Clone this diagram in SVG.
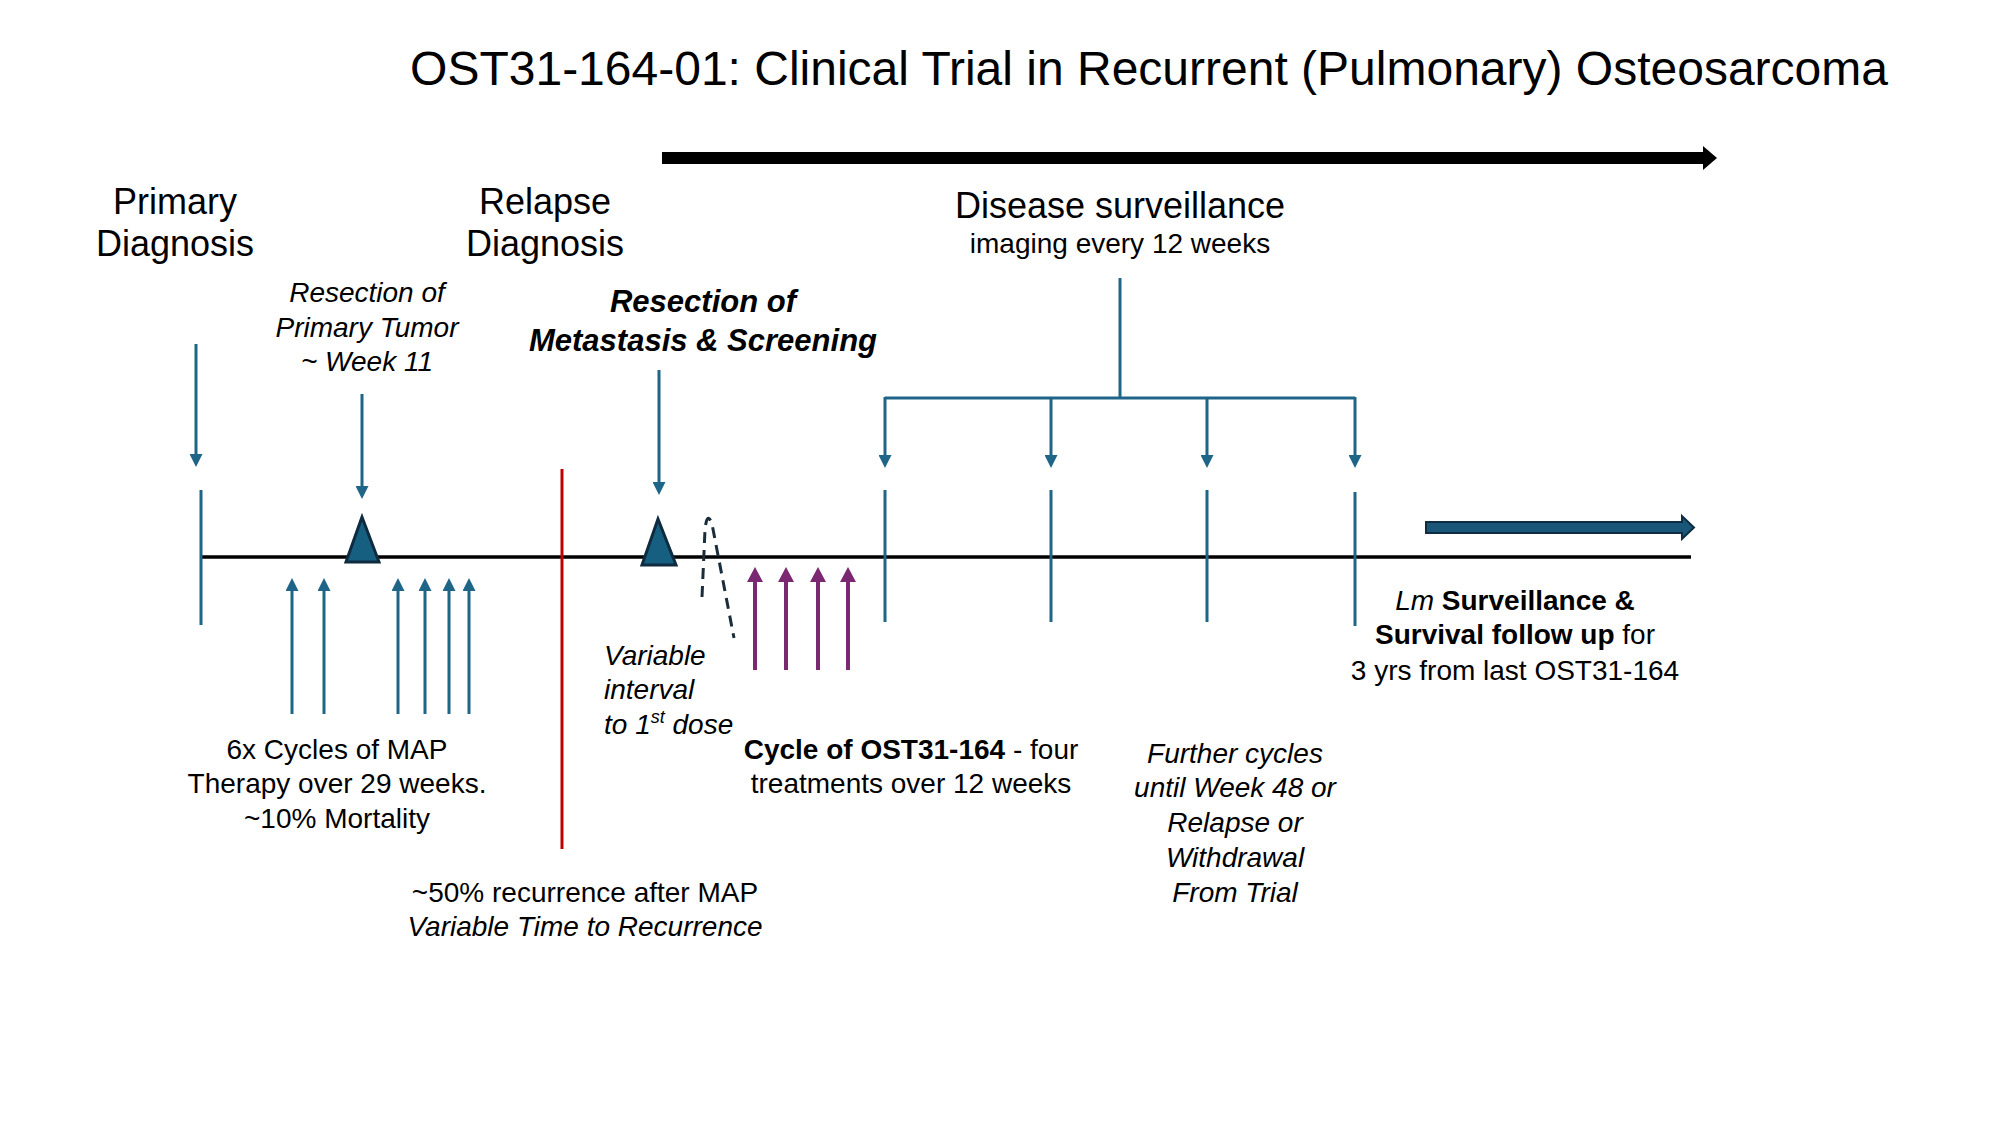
<svg xmlns="http://www.w3.org/2000/svg" width="2000" height="1125" viewBox="0 0 2000 1125">
<style>
text{font-family:"Liberation Sans",Arial,sans-serif;fill:#000}
.t{font-size:48px}
.h{font-size:36px}
.b{font-size:28px}
.c{text-anchor:middle}
.i{font-style:italic}
.bd{font-weight:bold}
.teal{stroke:#1f6587;stroke-width:3;fill:none}
.purp{stroke:#7a2872;stroke-width:4;fill:none}
</style>
<defs>
<marker id="ah" markerUnits="userSpaceOnUse" markerWidth="13" markerHeight="13" refX="0" refY="6.5" orient="auto">
<path d="M0,0 L13,6.5 L0,13 z" fill="#1f6587"/>
</marker>
<marker id="ap" markerUnits="userSpaceOnUse" markerWidth="15" markerHeight="16" refX="0" refY="8" orient="auto">
<path d="M0,0 L15,8 L0,16 z" fill="#7a2872"/>
</marker>
</defs>
<rect width="2000" height="1125" fill="#fff"/>
<g id="title"><text class="t c" x="1149" y="85">OST31-164-01: Clinical Trial in Recurrent (Pulmonary) Osteosarcoma</text></g>
<g id="trial-arrow">
<rect x="662" y="152" width="1043" height="12" fill="#000"/>
<polygon points="1703,146 1717,158 1703,170" fill="#000"/>
</g>
<g id="timeline"><line x1="201" y1="557" x2="1691" y2="557" stroke="#000" stroke-width="3.5"/></g>
<g id="primary-diagnosis">
<text class="h c" x="175" y="214">Primary</text>
<text class="h c" x="175" y="256">Diagnosis</text>
<line class="teal" x1="201" y1="490" x2="201" y2="625"/>
</g>
<g id="relapse-diagnosis">
<text class="h c" x="545" y="214">Relapse</text>
<text class="h c" x="545" y="256">Diagnosis</text>
</g>
<g id="resection-primary">
<text class="b c i" x="367" y="302">Resection of</text>
<text class="b c i" x="367" y="337">Primary Tumor</text>
<text class="b c i" x="367" y="371">~ Week 11</text>
<polygon points="362,517 346,562 379,562" fill="#175f80" stroke="#0e2b3f" stroke-width="3" stroke-linejoin="miter"/>
</g>
<g id="map-therapy">
<text class="b c" x="337" y="759">6x Cycles of MAP</text>
<text class="b c" x="337" y="793">Therapy over 29 weeks.</text>
<text class="b c" x="337" y="828">~10% Mortality</text>
</g>
<g id="recurrence">
<line x1="562" y1="469" x2="562" y2="849" stroke="#c00000" stroke-width="3"/>
<text class="b c" x="585" y="902">~50% recurrence after MAP</text>
<text class="b c i" x="585" y="936">Variable Time to Recurrence</text>
</g>
<g id="resection-metastasis">
<text class="b c i bd" x="703" y="312" style="font-size:31px">Resection of</text>
<text class="b c i bd" x="703" y="351" style="font-size:31px">Metastasis &amp; Screening</text>
<polygon points="658,519 642,565 676,565" fill="#175f80" stroke="#0e2b3f" stroke-width="3"/>
</g>
<g id="variable-interval">
<text class="b i" x="604" y="665">Variable</text>
<text class="b i" x="604" y="699">interval</text>
<text class="b i" x="604" y="734">to 1<tspan font-size="18" dy="-11">st</tspan><tspan dy="11"> dose</tspan></text>
<path d="M702,597 L705,530 Q707,510 712,524 L734,638" fill="none" stroke="#1b2d3a" stroke-width="3" stroke-dasharray="11,7"/>
</g>
<g id="ost-cycle">
<text class="b c" x="911" y="759"><tspan class="bd">Cycle of OST31-164</tspan> - four</text>
<text class="b c" x="911" y="793">treatments over 12 weeks</text>
</g>
<g id="disease-surveillance">
<text class="h c" x="1120" y="218">Disease surveillance</text>
<text class="b c" x="1120" y="253">imaging every 12 weeks</text>
</g>
<g id="further-cycles">
<text class="b c i" x="1235" y="763">Further cycles</text>
<text class="b c i" x="1235" y="797">until Week 48 or</text>
<text class="b c i" x="1235" y="832">Relapse or</text>
<text class="b c i" x="1235" y="867">Withdrawal</text>
<text class="b c i" x="1235" y="902">From Trial</text>
</g>
<g id="followup">
<polygon points="1426,522 1682,522 1682,516 1694,527.5 1682,539 1682,533 1426,533" fill="#1a5677" stroke="#0f2d42" stroke-width="2"/>
<text class="b c" x="1515" y="610"><tspan class="i">Lm</tspan><tspan class="bd"> Surveillance &amp;</tspan></text>
<text class="b c" x="1515" y="644"><tspan class="bd">Survival follow up</tspan> for</text>
<text class="b c" x="1515" y="680">3 yrs from last OST31-164</text>
</g>
<g id="connectors">
<line class="teal" x1="196" y1="344" x2="196" y2="454" marker-end="url(#ah)"/>
<line class="teal" x1="362" y1="394" x2="362" y2="486" marker-end="url(#ah)"/>
<line class="teal" x1="659" y1="370" x2="659" y2="482" marker-end="url(#ah)"/>
<g id="map-arrows">
<line class="teal" x1="292" y1="714" x2="292" y2="591" marker-end="url(#ah)"/>
<line class="teal" x1="324" y1="714" x2="324" y2="591" marker-end="url(#ah)"/>
<line class="teal" x1="398" y1="714" x2="398" y2="591" marker-end="url(#ah)"/>
<line class="teal" x1="425" y1="714" x2="425" y2="591" marker-end="url(#ah)"/>
<line class="teal" x1="449" y1="714" x2="449" y2="591" marker-end="url(#ah)"/>
<line class="teal" x1="469" y1="714" x2="469" y2="591" marker-end="url(#ah)"/>
</g>
<g id="ost-arrows">
<line class="purp" x1="755" y1="670" x2="755" y2="582" marker-end="url(#ap)"/>
<line class="purp" x1="786" y1="670" x2="786" y2="582" marker-end="url(#ap)"/>
<line class="purp" x1="818" y1="670" x2="818" y2="582" marker-end="url(#ap)"/>
<line class="purp" x1="848" y1="670" x2="848" y2="582" marker-end="url(#ap)"/>
</g>
<g id="surveillance-tree">
<line class="teal" x1="1120" y1="278" x2="1120" y2="398"/>
<polyline class="teal" points="885,398 1355,398"/>
<line class="teal" x1="885" y1="397" x2="885" y2="455" marker-end="url(#ah)"/>
<line class="teal" x1="1051" y1="397" x2="1051" y2="455" marker-end="url(#ah)"/>
<line class="teal" x1="1207" y1="397" x2="1207" y2="455" marker-end="url(#ah)"/>
<line class="teal" x1="1355" y1="397" x2="1355" y2="455" marker-end="url(#ah)"/>
<line class="teal" x1="885" y1="490" x2="885" y2="622"/>
<line class="teal" x1="1051" y1="490" x2="1051" y2="622"/>
<line class="teal" x1="1207" y1="490" x2="1207" y2="622"/>
<line class="teal" x1="1355" y1="492" x2="1355" y2="626"/>
</g>
</g>
</svg>
